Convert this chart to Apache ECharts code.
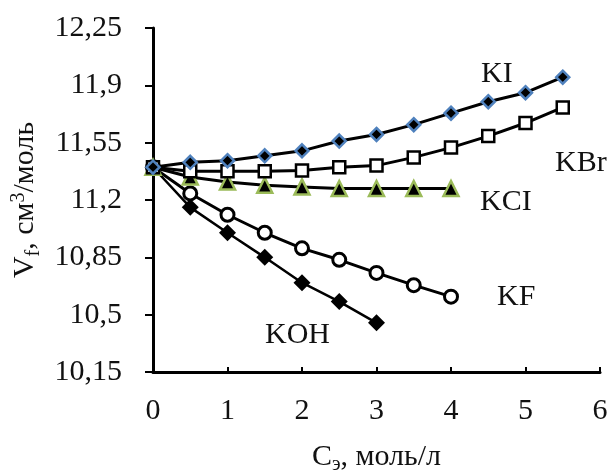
<!DOCTYPE html>
<html>
<head>
<meta charset="utf-8">
<script src="https://cdn.jsdelivr.net/npm/echarts@6/dist/echarts.min.js"></script>
<style>
  html, body { margin: 0; padding: 0; background: #fff; }
  #chart { width: 607px; height: 476px; }
</style>
</head>
<body>
<div id="chart"></div>
<script>
// Concentration, mol/L
const concKI  = [0, 0.5, 1, 1.5, 2, 2.5, 3, 3.5, 4, 4.5, 5, 5.5];
const concKBr = [0, 0.5, 1, 1.5, 2, 2.5, 3, 3.5, 4, 4.5, 5, 5.5];
const concKCl = [0, 0.5, 1, 1.5, 2, 2.5, 3, 3.5, 4];
const concKF  = [0, 0.5, 1, 1.5, 2, 2.5, 3, 3.5, 4];
const concKOH = [0, 0.5, 1, 1.5, 2, 2.5, 3];

// Apparent molar volume V_f, cm3/mol
const vKI  = [11.40, 11.43, 11.44, 11.47, 11.50, 11.56, 11.60, 11.66, 11.73, 11.80, 11.855, 11.95];
const vKBr = [11.40, 11.375, 11.375, 11.375, 11.38, 11.40, 11.41, 11.46, 11.52, 11.59, 11.67, 11.765];
const vKCl = [11.40, 11.34, 11.31, 11.29, 11.28, 11.27, 11.27, 11.27, 11.27];
const vKF  = [11.40, 11.24, 11.11, 11.00, 10.905, 10.835, 10.755, 10.68, 10.61];
const vKOH = [11.40, 11.155, 11.00, 10.85, 10.695, 10.58, 10.45];

const xTickLabels = ['0', '1', '2', '3', '4', '5', '6'];
const yTickLabels = ['10,15', '10,5', '10,85', '11,2', '11,55', '11,9', '12,25'];

const FONT = '"Liberation Serif", "Times New Roman", serif';

function pairs(xs, ys) { return xs.map((x, i) => [x, ys[i]]); }

const chart = echarts.init(document.getElementById('chart'), null, { renderer: 'canvas' });

function lineSeries(name, xs, ys, symbol, size, fill, border, borderW, lineW) {
  return {
    name, type: 'line', data: pairs(xs, ys),
    symbol, symbolSize: size, showAllSymbol: true,
    lineStyle: { color: '#000', width: lineW },
    itemStyle: { color: fill, borderColor: border, borderWidth: borderW },
    emphasis: { disabled: true },
    animation: false
  };
}

const labelStyle = { fontFamily: FONT, fontSize: 30, fill: '#111' };

chart.setOption({
  animation: false,
  grid: { left: 153, right: 7, top: 28, bottom: 104, containLabel: false, outerBoundsMode: 'none' },
  xAxis: {
    type: 'value', min: 0, max: 6, interval: 1,
    axisLine: { show: true, lineStyle: { color: '#000', width: 3 } },
    axisTick: { show: true, inside: true, length: 5, lineStyle: { color: '#000', width: 2 } },
    splitLine: { show: false },
    axisLabel: {
      margin: 24, color: '#111', fontFamily: FONT, fontSize: 30,
      formatter: v => xTickLabels[Math.round(v)]
    },
    name: 'C{sub|э}, моль/л',
    nameLocation: 'middle', nameGap: 67,
    nameTextStyle: {
      color: '#111', fontFamily: FONT, fontSize: 30,
      rich: { sub: { fontFamily: FONT, fontSize: 20, color: '#111', padding: [16, 0, 0, 0] } }
    }
  },
  yAxis: {
    type: 'value', min: 10.15, max: 12.25, interval: 0.35,
    axisLine: { show: true, lineStyle: { color: '#000', width: 3 } },
    axisTick: { show: true, inside: false, length: 8, lineStyle: { color: '#000', width: 2 } },
    splitLine: { show: false },
    axisLabel: {
      margin: 31, color: '#111', fontFamily: FONT, fontSize: 30,
      formatter: v => yTickLabels[Math.round((v - 10.15) / 0.35)]
    },
    name: 'V{sub|f}, см{sup|3}/моль',
    nameLocation: 'middle', nameGap: 106, nameRotate: 90,
    nameTextStyle: {
      color: '#111', fontFamily: FONT, fontSize: 30,
      rich: {
        sub: { fontFamily: FONT, fontSize: 20, color: '#111', padding: [16, 0, 0, 0] },
        sup: { fontFamily: FONT, fontSize: 20, color: '#111', padding: [0, 0, 14, 0] }
      }
    }
  },
  series: [
    lineSeries('KOH', concKOH, vKOH, 'diamond', 17, '#000', '#000', 0, 2.5),
    lineSeries('KF',  concKF,  vKF,  'circle', 13, '#fff', '#000', 3, 3),
    lineSeries('KCl', concKCl, vKCl, 'triangle', 15, '#000', '#9bbb59', 2.5, 3),
    lineSeries('KBr', concKBr, vKBr, 'rect', 12, '#fff', '#000', 2.5, 3),
    lineSeries('KI',  concKI,  vKI,  'diamond', 13, '#000', '#4f81bd', 2.5, 3)
  ],
  graphic: [
    { type: 'text', left: 481, top: 59, style: Object.assign({ text: 'KI' }, labelStyle) },
    { type: 'text', left: 555, top: 148, style: Object.assign({ text: 'KBr' }, labelStyle) },
    { type: 'text', left: 480, top: 187, style: Object.assign({ text: 'KCI' }, labelStyle) },
    { type: 'text', left: 497, top: 282, style: Object.assign({ text: 'KF' }, labelStyle) },
    { type: 'text', left: 265, top: 320, style: Object.assign({ text: 'KOH' }, labelStyle) }
  ]
});
</script>
</body>
</html>
